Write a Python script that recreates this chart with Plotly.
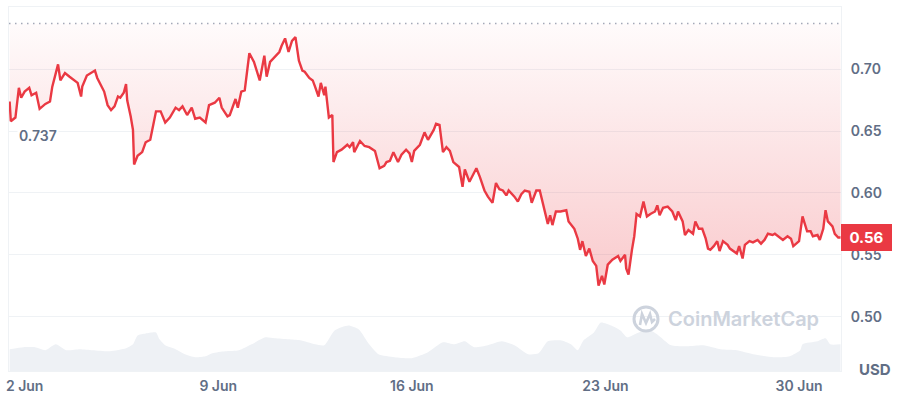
import pandas as pd
import plotly.graph_objects as go

# ---- data ----
start_date = "2024-06-01"
price_hours = [11, 12, 16, 19, 21, 24, 28, 30, 34, 37, 42, 46, 48, 53, 55, 59, 63, 67, 70, 73,
               74, 78, 81, 85, 87, 90, 93, 96, 99, 102, 105, 107, 110, 112, 113, 116, 118, 119, 122, 126,
               129, 133, 138, 142, 146, 150, 155, 158, 161, 165, 169, 172, 176, 181, 184, 189, 193, 195, 200, 202,
               207, 209, 212, 215, 219, 223, 226, 228, 232, 234, 237, 241, 245, 247, 250, 253, 256, 259, 262, 265,
               267, 271, 274, 276, 279, 281, 284, 285, 288, 291, 292, 295, 299, 304, 306, 309, 310, 315, 319, 323,
               328, 332, 336, 338, 341, 344, 348, 351, 355, 358, 360, 362, 367, 371, 374, 379, 381, 384, 387, 390,
               393, 396, 399, 401, 404, 406, 410, 412, 416, 419, 423, 426, 430, 433, 436, 439, 442, 444, 449, 452,
               455, 458, 462, 464, 468, 471, 474, 476, 478, 480, 482, 485, 489, 494, 496, 501, 504, 506, 508, 511,
               514, 517, 520, 522, 525, 527, 530, 534, 539, 541, 545, 546, 548, 551, 553, 555, 558, 561, 564, 567,
               571, 573, 575, 578, 582, 586, 589, 591, 595, 597, 600, 604, 606, 609, 612, 615, 617, 619, 622, 625,
               627, 630, 634, 636, 639, 642, 644, 647, 649, 653, 656, 660, 663, 666, 669, 673, 675, 678, 682, 686,
               689, 691, 694, 696, 699, 701, 703, 706, 708, 712, 714, 717, 719, 721, 725, 727, 730, 732]
prices = [0.674, 0.658, 0.661, 0.685, 0.677, 0.682, 0.685, 0.679, 0.681, 0.668, 0.672, 0.674, 0.686, 0.704, 0.691, 0.697, 0.694, 0.691, 0.689, 0.678,
          0.686, 0.695, 0.697, 0.699, 0.693, 0.687, 0.682, 0.671, 0.667, 0.670, 0.678, 0.677, 0.681, 0.688, 0.675, 0.662, 0.651, 0.623, 0.630, 0.633,
          0.641, 0.643, 0.666, 0.666, 0.657, 0.661, 0.669, 0.667, 0.670, 0.663, 0.669, 0.660, 0.661, 0.657, 0.671, 0.673, 0.677, 0.669, 0.662, 0.663,
          0.676, 0.669, 0.682, 0.683, 0.713, 0.706, 0.698, 0.691, 0.711, 0.694, 0.706, 0.710, 0.714, 0.719, 0.725, 0.714, 0.723, 0.726, 0.707, 0.699,
          0.698, 0.693, 0.691, 0.686, 0.678, 0.689, 0.679, 0.686, 0.661, 0.663, 0.625, 0.633, 0.635, 0.639, 0.637, 0.641, 0.633, 0.642, 0.638, 0.637,
          0.634, 0.620, 0.622, 0.625, 0.626, 0.633, 0.625, 0.631, 0.635, 0.632, 0.625, 0.634, 0.639, 0.649, 0.643, 0.651, 0.656, 0.655, 0.633, 0.637,
          0.634, 0.625, 0.623, 0.621, 0.605, 0.619, 0.609, 0.613, 0.620, 0.613, 0.602, 0.597, 0.592, 0.608, 0.603, 0.602, 0.598, 0.602, 0.597, 0.593,
          0.599, 0.602, 0.601, 0.592, 0.602, 0.602, 0.591, 0.582, 0.575, 0.582, 0.574, 0.585, 0.585, 0.586, 0.577, 0.571, 0.563, 0.554, 0.561, 0.549,
          0.555, 0.545, 0.541, 0.525, 0.533, 0.526, 0.542, 0.546, 0.549, 0.545, 0.550, 0.539, 0.534, 0.554, 0.565, 0.583, 0.581, 0.593, 0.581, 0.583,
          0.585, 0.590, 0.582, 0.588, 0.589, 0.585, 0.578, 0.585, 0.577, 0.566, 0.570, 0.567, 0.577, 0.571, 0.571, 0.563, 0.555, 0.554, 0.557, 0.561,
          0.553, 0.561, 0.558, 0.555, 0.553, 0.551, 0.557, 0.547, 0.558, 0.561, 0.560, 0.562, 0.559, 0.562, 0.567, 0.566, 0.567, 0.565, 0.562, 0.565,
          0.563, 0.557, 0.559, 0.561, 0.581, 0.574, 0.569, 0.569, 0.565, 0.566, 0.562, 0.571, 0.586, 0.577, 0.573, 0.567, 0.564, 0.564]

volume_hours = [11, 23, 33, 42, 51, 60, 72, 83, 98, 112, 118, 122, 129, 138, 141, 146, 155, 163, 172, 181,
                187, 198, 210, 221, 233, 241, 253, 263, 276, 284, 293, 305, 314, 323, 331, 345, 360, 374, 387, 397,
                406, 414, 426, 438, 449, 461, 470, 478, 489, 498, 504, 509, 518, 524, 533, 541, 547, 553, 565, 573,
                585, 599, 613, 628, 642, 656, 674, 688, 697, 699, 712, 719, 723, 732]
volumes_musd = [220, 240, 240, 210, 270, 210, 220, 210, 200, 230, 270, 360, 380, 390, 320, 260, 220, 170, 140, 150,
                180, 200, 210, 270, 340, 330, 320, 310, 270, 260, 410, 460, 420, 270, 170, 140, 130, 190, 290, 270,
                300, 240, 260, 300, 260, 170, 180, 300, 310, 270, 210, 310, 390, 490, 460, 410, 340, 370, 420, 370,
                260, 250, 260, 220, 210, 170, 140, 150, 210, 270, 300, 330, 270, 270]

open_price = 0.737
last_price_label = "0.56"
x_ticks = ["2024-06-02", "2024-06-09", "2024-06-16", "2024-06-23", "2024-06-30"]
y_ticks = [0.50, 0.55, 0.60, 0.65, 0.70]

# ---- figure ----
base = pd.Timestamp(start_date)
t_price = base + pd.to_timedelta(price_hours, unit="h")
t_vol = base + pd.to_timedelta(volume_hours, unit="h")

RED = "#ea3943"
GREY = "#616e85"
FONT = "Inter"

fig = go.Figure()

fig.add_trace(go.Scatter(
    x=t_vol, y=volumes_musd, yaxis="y2", mode="lines",
    line=dict(width=0, color="#eceff3", shape="spline", smoothing=0.6), fill="tozeroy",
    fillcolor="#eef1f5", hoverinfo="skip", showlegend=False))

fig.add_trace(go.Scatter(
    x=[t_price[0], t_price[-1]], y=[open_price, open_price], mode="lines",
    line=dict(width=0, color="rgba(0,0,0,0)"), hoverinfo="skip", showlegend=False))

fig.add_trace(go.Scatter(
    x=t_price, y=prices, mode="lines", line=dict(color=RED, width=2.4),
    fill="tonexty",
    fillgradient=dict(type="vertical", start=min(prices), stop=open_price,
                      colorscale=[[0, "rgba(234,57,67,0.27)"], [1, "rgba(234,57,67,0.02)"]]),
    showlegend=False))

fig.add_hline(y=open_price, line=dict(color="#a3a9b8", width=1.4, dash="1.5px,4.5px"))

fig.update_layout(
    width=900, height=400,
    margin=dict(l=6, r=59, t=6, b=26),
    paper_bgcolor="white", plot_bgcolor="white",
    font=dict(family=FONT, color=GREY, size=14),
    xaxis=dict(range=["2024-06-01 10:26", "2024-07-01 12:24"], tickvals=x_ticks,
               tickformat="%-d %b", showgrid=False, ticks="", zeroline=False,
               showline=True, mirror=True, linecolor="#eff2f5", linewidth=1,
               ticklabelstandoff=2,
               tickfont=dict(family=FONT, size=14, color=GREY, weight=600)),
    yaxis=dict(range=[0.456, 0.7504], side="right", tickvals=y_ticks, tickformat=".2f",
               gridcolor="#eff2f5", gridwidth=1, zeroline=False, ticks="",
               showline=True, mirror=True, linecolor="#eff2f5", linewidth=1,
               ticklabelstandoff=6,
               tickfont=dict(family=FONT, size=14, color=GREY, weight=600)),
    yaxis2=dict(range=[0, 3680], overlaying="y", visible=False),
    hovermode=False,
)

# opening price label on the left
fig.add_annotation(x=0, xref="paper", xanchor="left", xshift=8, y=0.6464, yref="y",
                   text=f"{open_price:.3f}", showarrow=False, bgcolor="white",
                   font=dict(family=FONT, size=14, color=GREY, weight=600))

# current price badge
fig.add_annotation(x=1, xref="paper", xanchor="left", y=prices[-1], yref="y",
                   text=last_price_label, showarrow=False, bgcolor=RED,
                   bordercolor=RED, borderwidth=1, borderpad=3, width=43, height=19,
                   font=dict(family=FONT, size=15, color="white", weight=700))

# currency label
fig.add_annotation(x=1, xref="paper", xanchor="left", xshift=16, y=0, yref="paper",
                   yanchor="middle", yshift=2, text="USD", showarrow=False,
                   font=dict(family=FONT, size=15, color=GREY, weight=700))

# watermark
WM = "#cdd3dd"
fig.add_annotation(x=1, xref="paper", xanchor="right", xshift=-20, y=0, yref="paper",
                   yanchor="middle", yshift=52, text="CoinMarketCap", showarrow=False,
                   font=dict(family=FONT, size=20, color=WM, weight=600))
fig.add_shape(type="circle", xref="paper", yref="paper", xsizemode="pixel", ysizemode="pixel",
              xanchor=1, yanchor=0, x0=-207, x1=-183, y0=40, y1=64,
              line=dict(color=WM, width=3))
fig.add_shape(type="path", xref="paper", yref="paper", xsizemode="pixel", ysizemode="pixel",
              xanchor=1, yanchor=0,
              path="M -201,46 L -199,57 L -195,48 L -191,57 L -189,49 L -186,52",
              line=dict(color=WM, width=2.6))

fig.write_html("out.html", config={"displayModeBar": False},
               post_script="document.body.style.margin='0';")
